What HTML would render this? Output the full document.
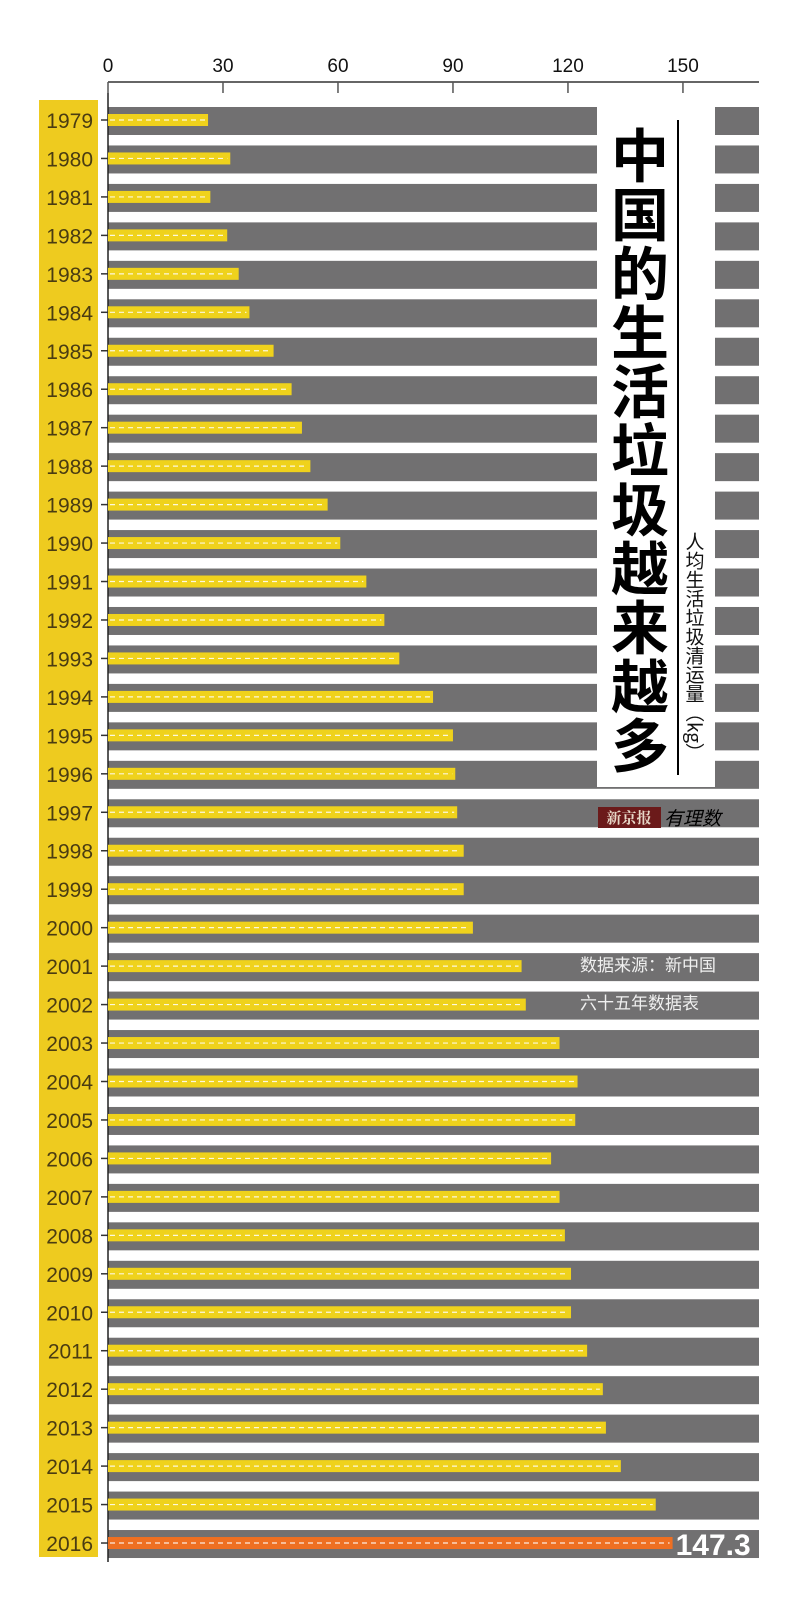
<!DOCTYPE html>
<html><head><meta charset="utf-8">
<style>
html,body{margin:0;padding:0;background:#fff;}
body{width:800px;height:1607px;overflow:hidden;position:relative;font-family:"Liberation Sans","Noto Sans CJK SC",sans-serif;}
svg{position:absolute;left:0;top:0;}
</style></head>
<body>
<svg id="chart" width="800" height="1607" xmlns="http://www.w3.org/2000/svg"></svg>
<script>
const years = [1979,1980,1981,1982,1983,1984,1985,1986,1987,1988,1989,1990,1991,1992,1993,1994,1995,1996,1997,1998,1999,2000,2001,2002,2003,2004,2005,2006,2007,2008,2009,2010,2011,2012,2013,2014,2015,2016];
const values = [26.1,31.9,26.7,31.1,34.1,36.9,43.2,47.9,50.6,52.8,57.3,60.6,67.4,72.1,76.0,84.8,90.0,90.6,91.1,92.8,92.8,95.2,107.9,109.0,117.8,122.5,121.9,115.6,117.8,119.2,120.8,120.8,125.0,129.1,129.9,133.8,142.9,147.3];
const xTicks = [0,30,60,90,120,150];

const NS = "http://www.w3.org/2000/svg";
const svg = document.getElementById('chart');
function mk(tag, attrs, parent){const e=document.createElementNS(NS,tag);for(const k in attrs)e.setAttribute(k,attrs[k]);(parent||svg).appendChild(e);return e;}
const x = v => 108 + v*3.833;
const y = i => 120 + i*38.46;

// gray bands
const bands = mk('g',{});


years.forEach((yr,i)=>{
  const r = mk('rect',{x:108,y:y(i)-13,width:651,height:28,fill:'#717071'},bands);
  
  
});

// title box
const tb = mk('rect',{x:597,y:103,width:118,height:684,fill:'#fff'});


const tl = mk('line',{x1:678,y1:120,x2:678,y2:775,stroke:'#000','stroke-width':2});


const title = mk('text',{x:640,y:126,'font-size':58,'font-weight':'bold',fill:'#000','writing-mode':'tb','glyph-orientation-vertical':0,'letter-spacing':1,'font-family':'"Noto Sans CJK SC",sans-serif'});
title.style.writingMode='vertical-rl';
title.textContent='中国的生活垃圾越来越多';


const sub = mk('text',{x:695,y:532,'font-size':19,fill:'#111','font-family':'"Noto Sans CJK SC",sans-serif'});
sub.style.writingMode='vertical-rl';
sub.textContent='人均生活垃圾清运量（kg）';



// logo
const lg = mk('g',{});


mk('rect',{x:598,y:807,width:63,height:21,fill:'#6b1a1a'},lg);
const l1 = mk('text',{x:629,y:823,'font-size':15,'text-anchor':'middle',fill:'#e8d8c8','font-family':'"Noto Serif CJK SC",serif','font-weight':'bold'},lg);
l1.textContent='新京报';
const l2 = mk('text',{x:664,y:825,'font-size':19,fill:'#000','font-style':'italic','font-family':'"Noto Sans CJK SC",sans-serif'},lg);
l2.textContent='有理数';

// source text
const s1 = mk('text',{x:580,y:971,'font-size':17,fill:'#f0f0f0','font-family':'"Noto Sans CJK SC",sans-serif'});
s1.textContent='数据来源：新中国';


const s2 = mk('text',{x:580,y:1009,'font-size':17,fill:'#f0f0f0','font-family':'"Noto Sans CJK SC",sans-serif'});
s2.textContent='六十五年数据表';



// year label box
const yb = mk('rect',{x:39,y:100,width:59,height:1457,fill:'#eecb1f'});



// top axis
const ax = mk('g',{});


mk('line',{x1:108,y1:82,x2:759,y2:82,stroke:'#666','stroke-width':2},ax);
xTicks.forEach(t=>{
  const tk = mk('line',{x1:x(t),y1:82,x2:x(t),y2:93,stroke:'#555','stroke-width':1.5},ax);
  
  
  const tx = mk('text',{x:x(t),y:72,'font-size':19,'text-anchor':'middle',fill:'#111'},ax);
  tx.textContent=t;
  
  
});
const vl = mk('line',{x1:108,y1:93,x2:108,y2:1562,stroke:'#222','stroke-width':1.5});



// bars
years.forEach((yr,i)=>{
  const last = i===years.length-1;
  const cy = y(i);
  const tk = mk('line',{x1:101,y1:cy,x2:108,y2:cy,stroke:'#333','stroke-width':1.5});
  
  
  const lb = mk('text',{x:93,y:cy+8,'font-size':21,'text-anchor':'end',fill:'#4a3c12'});
  lb.textContent=yr;
  
  
  const b = mk('rect',{x:108,y:cy-6,width:x(values[i])-108,height:12,fill:last?'#ee6f22':'#efd21c'});
  
  
  const d = mk('line',{x1:110,y1:cy,x2:x(values[i])-3,y2:cy,stroke:'#fff','stroke-width':1.2,'stroke-dasharray':'5,4',opacity:0.85});
  
  
  if(last){
    const v = mk('text',{x:x(values[i])+3,y:cy+12,'font-size':30,'font-weight':'bold',fill:'#fff'});
    v.textContent=values[i];
    
    
  }
});
</script>
</body></html>
